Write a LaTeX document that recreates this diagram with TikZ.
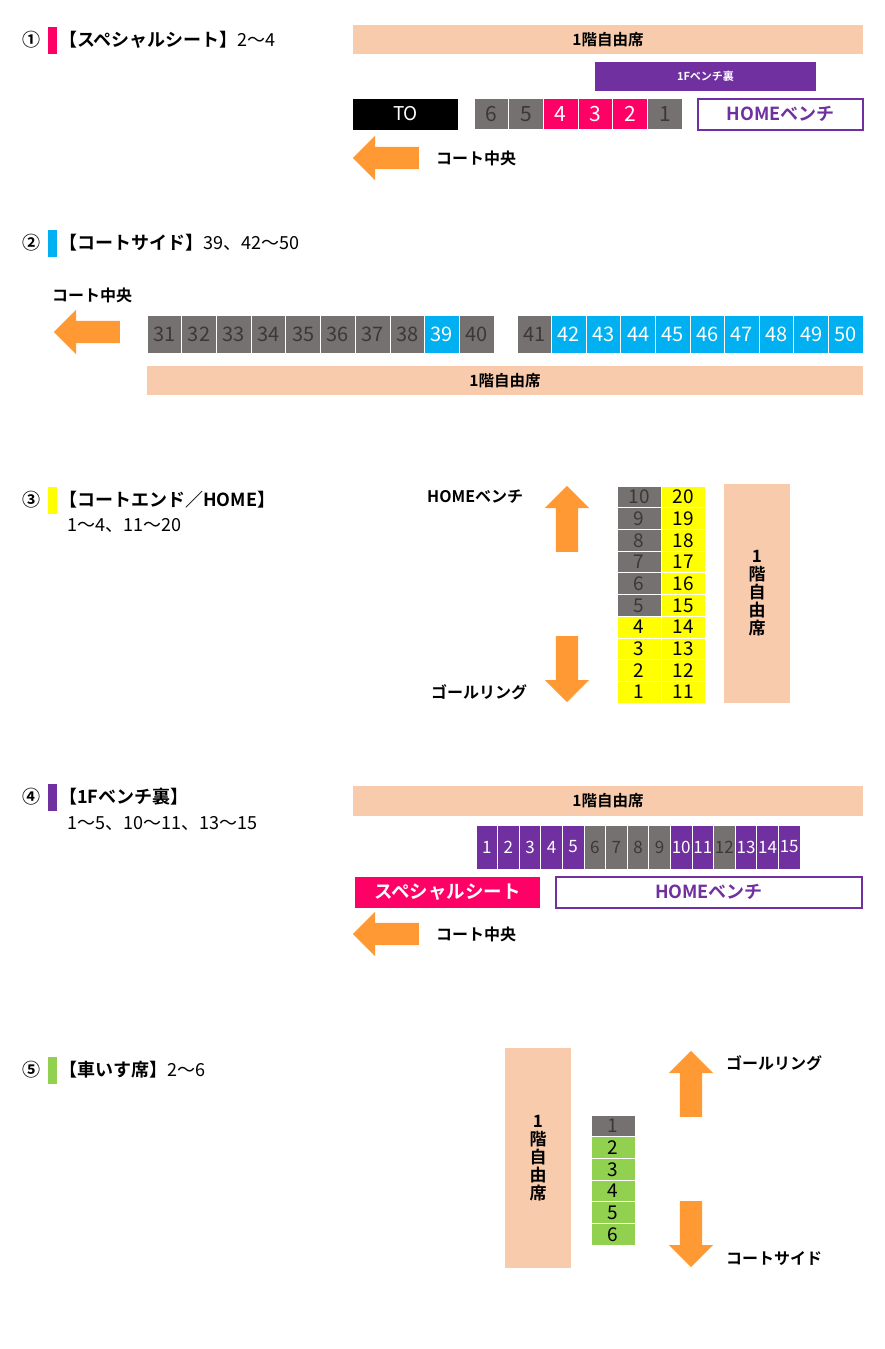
\documentclass[tikz,border=0pt]{standalone}
\usepackage{fontspec}
\setmainfont{Noto Sans CJK JP}[BoldFont={Noto Sans CJK JP Bold}]
\usetikzlibrary{shapes.arrows,positioning}
\definecolor{freeseat}{HTML}{F8CBAD}
\definecolor{seatgray}{HTML}{767171}
\definecolor{seattext}{HTML}{3B3838}
\definecolor{seatpink}{HTML}{FF0066}
\definecolor{seatpurple}{HTML}{7030A0}
\definecolor{seatblue}{HTML}{00B0F0}
\definecolor{seatyellow}{HTML}{FFFF00}
\definecolor{seatgreen}{HTML}{92D050}
\definecolor{courtorange}{HTML}{FF9933}
\tikzstyle{seat}=[rectangle, draw=white, line width=0.8pt, inner sep=0pt]
\tikzstyle{seatg}=[seat, fill=seatgray, text=seattext]
\tikzstyle{seaty}=[seat, fill=seatyellow, text=black]
\tikzstyle{seatb}=[seat, fill=seatblue, text=white]
\tikzstyle{seatv}=[seat, fill=seatgreen, text=black]
\tikzstyle{freebar}=[rectangle, fill=freeseat, inner sep=0pt, font=\bfseries\fontsize{15.5}{17}\selectfont]
\tikzstyle{benchbar}=[rectangle, fill=seatpurple, text=white, inner sep=0pt, font=\bfseries\fontsize{11}{12}\selectfont]
\tikzstyle{homebox}=[rectangle, draw=seatpurple, line width=2pt, fill=white, text=seatpurple, inner sep=0pt, minimum height=31pt, font=\bfseries\fontsize{18}{20}\selectfont]
\tikzstyle{courtarrow}=[single arrow, fill=courtorange, inner xsep=0pt, inner ysep=11pt, minimum width=44pt, minimum height=66pt, single arrow head extend=11pt]
\tikzstyle{note}=[inner sep=0pt, anchor=west, font=\bfseries\fontsize{16}{17}\selectfont]
\tikzstyle{titlemark}=[inner sep=0pt, font=\bfseries\fontsize{18}{20}\selectfont]
\tikzstyle{titlebar}=[rectangle, minimum width=9pt, minimum height=27pt, inner sep=0pt]
\tikzstyle{titletext}=[inner sep=0pt, anchor=west, font=\fontsize{18}{21}\selectfont]

\begin{document}
\begin{tikzpicture}[x=1pt, y=-1pt]
\useasboundingbox (0,0) rectangle (885,1349);

% section titles
\foreach \y/\mark/\col [count=\i] in {40/①/seatpink, 243/②/seatblue, 500/③/seatyellow, 797/④/seatpurple, 1070/⑤/seatgreen}{
  \node[titlemark] (mark\i) at (32,\y) {\mark};
  \node[titlebar, fill=\col] (bar\i) at (52.5,\y) {};
}
\node[titletext] (title1) at (59,40) {\textbf{【スペシャルシート】}2〜4};
\node[titletext] (title2) at (59,243) {\textbf{【コートサイド】}39、42〜50};
\node[titletext] (title3) at (59,500) {\textbf{【コートエンド／HOME】}};
\node[titletext] (sub3) at (67,525) {1〜4、11〜20};
\node[titletext] (title4) at (59,797) {\textbf{【1Fベンチ裏】}};
\node[titletext] (sub4) at (67,823) {1〜5、10〜11、13〜15};
\node[titletext] (title5) at (59,1070) {\textbf{【車いす席】}2〜6};

% (1) special seat
\node[freebar, minimum width=510pt, minimum height=29pt] (free1) at (608,39.5) {1階自由席};
\node[benchbar, minimum width=221pt, minimum height=29pt] (bench1) at (705.5,76.5) {1Fベンチ裏};
\node[rectangle, fill=black, text=white, inner sep=0pt, minimum width=105pt, minimum height=31pt,
      font=\fontsize{19}{20}\selectfont] (to1) at (405.5,114) {TO};
\foreach \n/\fc/\tc [count=\i] in {6/seatgray/seattext, 5/seatgray/seattext, 4/seatpink/white,
                                   3/seatpink/white, 2/seatpink/white, 1/seatgray/seattext}
  \node[seat, fill=\fc, text=\tc, minimum width=34.7pt, minimum height=31pt,
        font=\fontsize{21}{21}\selectfont] (a\n) at ({474+34.7*(\i-0.5)},114) {\n};
\node[homebox, minimum width=165pt] (home1) at (780.5,114) {HOMEベンチ};
\node[courtarrow, rotate=180, anchor=tail] (arr1) at (419,158) {};
\node[note] (lab1) at (436,158) {コート中央};

% (2) court side
\node[note] (lab2) at (52,295) {コート中央};
\node[courtarrow, rotate=180, anchor=tail] (arr2) at (120,332) {};
\tikzstyle{siderow}=[minimum width=34.7pt, minimum height=38pt, font=\fontsize{20}{20}\selectfont]
\foreach \n [count=\i] in {31,...,38}
  \node[seatg, siderow] (b\n) at ({147+34.7*(\i-0.5)},334) {\n};
\node[seatb, siderow] (b39) at (441.9,334) {39};
\node[seatg, siderow] (b40) at (476.6,334) {40};
\node[seatg, siderow] (b41) at (534.3,334) {41};
\foreach \n [count=\i] in {42,...,50}
  \node[seatb, siderow] (b\n) at ({551.6+34.6*(\i-0.5)},334) {\n};
\node[freebar, minimum width=716pt, minimum height=29pt] (free2) at (505,380.5) {1階自由席};

% (3) court end / HOME
\node[note] (lab3a) at (427,497) {HOMEベンチ};
\node[courtarrow, rotate=90, anchor=tail] (arr3a) at (567,552) {};
\node[courtarrow, rotate=-90, anchor=tail] (arr3b) at (567,636) {};
\node[note] (lab3b) at (431,692) {ゴールリング};
\tikzstyle{endrow}=[minimum width=44pt, minimum height=21.7pt, font=\fontsize{19}{20}\selectfont]
\foreach \n [count=\i] in {10,9,...,5}
  \node[seatg, endrow] (c\n) at (639,{486+21.7*(\i-0.5)}) {\n};
\foreach \n [count=\i] in {4,3,2,1}
  \node[seaty, endrow] (c\n) at (639,{616.2+21.7*(\i-0.5)}) {\n};
\foreach \n [count=\i] in {20,19,...,11}
  \node[seaty, endrow] (c\n) at (683,{486+21.7*(\i-0.5)}) {\n};
\node[freebar, minimum width=66pt, minimum height=219pt, align=center,
      font=\bfseries\fontsize{17}{18}\selectfont] (free3) at (757,593.5) {1\\階\\自\\由\\席};

% (4) 1F bench back
\node[freebar, minimum width=510pt, minimum height=30pt] (free4) at (608,801) {1階自由席};
\foreach \n/\fc/\tc [count=\i] in {1/seatpurple/white, 2/seatpurple/white, 3/seatpurple/white,
                                   4/seatpurple/white, 5/seatpurple/white, 6/seatgray/seattext,
                                   7/seatgray/seattext, 8/seatgray/seattext, 9/seatgray/seattext,
                                   10/seatpurple/white, 11/seatpurple/white, 12/seatgray/seattext,
                                   13/seatpurple/white, 14/seatpurple/white, 15/seatpurple/white}
  \node[seat, fill=\fc, text=\tc, minimum width=21.6pt, minimum height=44pt,
        font=\fontsize{17}{18}\selectfont] (d\n) at ({476+21.6*(\i-0.5)},847) {\n};
\node[rectangle, fill=seatpink, text=white, inner sep=0pt, minimum width=185pt, minimum height=31pt,
      font=\bfseries\fontsize{18.5}{20}\selectfont] (special4) at (447.5,892) {スペシャルシート};
\node[homebox, minimum width=306pt] (home4) at (709,892) {HOMEベンチ};
\node[courtarrow, rotate=180, anchor=tail] (arr4) at (419,934) {};
\node[note] (lab4) at (436,934) {コート中央};

% (5) wheelchair seats
\node[freebar, minimum width=66pt, minimum height=220pt, align=center,
      font=\bfseries\fontsize{17}{18}\selectfont] (free5) at (538,1158) {1\\階\\自\\由\\席};
\tikzstyle{wheelrow}=[minimum width=44pt, minimum height=21.7pt, font=\fontsize{19}{20}\selectfont]
\node[seatg, wheelrow] (e1) at (613,1125.85) {1};
\foreach \n [count=\i] in {2,...,6}
  \node[seatv, wheelrow] (e\n) at (613,{1136.7+21.7*(\i-0.5)}) {\n};
\node[courtarrow, rotate=90, anchor=tail] (arr5a) at (691,1117) {};
\node[courtarrow, rotate=-90, anchor=tail] (arr5b) at (691,1201) {};
\node[note] (lab5a) at (726,1063) {ゴールリング};
\node[note] (lab5b) at (726,1258) {コートサイド};
\end{tikzpicture}
\end{document}
